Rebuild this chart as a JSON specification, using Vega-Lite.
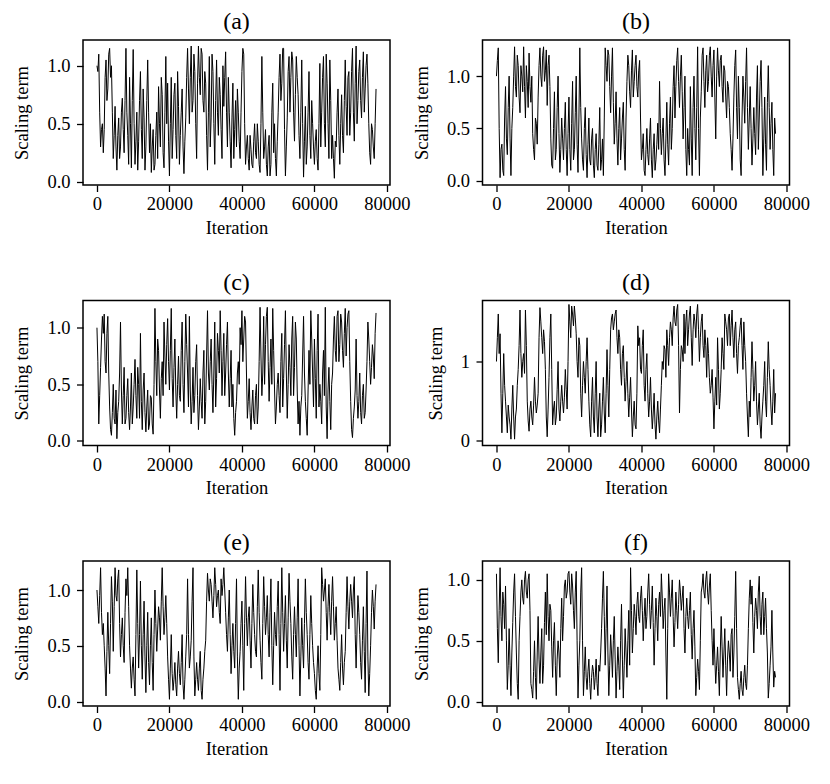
{
  "$schema": "https://vega.github.io/schema/vega-lite/v6.json",
  "background": "white",
  "padding": {"left": 12, "top": 9, "right": 0, "bottom": 0},
  "datasets": {
    "traces": [
      {"x": 0, "a": 1.0, "b": 1.0, "c": 1.0, "d": 1.0, "e": 1.0, "f": 1.05},
      {"x": 500, "a": 1.1, "b": 1.27, "c": 0.15, "d": 1.6, "e": 0.7, "f": 0.32},
      {"x": 1000, "a": 0.3, "b": 0.03, "c": 0.65, "d": 1.35, "e": 1.2, "f": 1.1},
      {"x": 1500, "a": 0.5, "b": 0.35, "c": 1.1, "d": 0.1, "e": 0.6, "f": 0.5},
      {"x": 2000, "a": 0.45, "b": 0.05, "c": 1.12, "d": 1.1, "e": 0.5, "f": 0.8},
      {"x": 2500, "a": 1.05, "b": 0.9, "c": 0.6, "d": 0.5, "e": 0.05, "f": 0.95},
      {"x": 3000, "a": 0.8, "b": 0.25, "c": 1.1, "d": 0.1, "e": 0.8, "f": 0.1},
      {"x": 3500, "a": 1.15, "b": 1.0, "c": 0.3, "d": 0.3, "e": 0.25, "f": 0.6},
      {"x": 4000, "a": 1.0, "b": 0.05, "c": 0.05, "d": 0.02, "e": 1.12, "f": 0.05},
      {"x": 4500, "a": 0.2, "b": 0.7, "c": 0.5, "d": 0.7, "e": 0.45, "f": 0.65},
      {"x": 5000, "a": 0.65, "b": 1.28, "c": 0.15, "d": 0.02, "e": 1.2, "f": 1.05},
      {"x": 5500, "a": 0.1, "b": 0.8, "c": 0.02, "d": 0.4, "e": 0.9, "f": 0.4},
      {"x": 6000, "a": 0.55, "b": 1.1, "c": 0.35, "d": 0.9, "e": 1.18, "f": 0.02},
      {"x": 6500, "a": 0.3, "b": 0.65, "c": 1.05, "d": 1.65, "e": 0.4, "f": 0.7},
      {"x": 7000, "a": 0.72, "b": 1.0, "c": 0.15, "d": 0.8, "e": 0.75, "f": 1.0},
      {"x": 7500, "a": 0.25, "b": 1.28, "c": 0.65, "d": 1.1, "e": 0.35, "f": 0.8},
      {"x": 8000, "a": 1.15, "b": 0.6, "c": 0.2, "d": 1.65, "e": 1.1, "f": 1.07},
      {"x": 8500, "a": 0.4, "b": 0.95, "c": 0.55, "d": 0.5, "e": 1.2, "f": 0.85},
      {"x": 9000, "a": 0.9, "b": 1.22, "c": 0.1, "d": 0.12, "e": 0.5, "f": 1.05},
      {"x": 9500, "a": 0.12, "b": 0.75, "c": 0.6, "d": 0.5, "e": 0.12, "f": 0.15},
      {"x": 10000, "a": 1.14, "b": 0.45, "c": 0.3, "d": 0.2, "e": 0.4, "f": 0.03},
      {"x": 10500, "a": 0.15, "b": 0.2, "c": 0.72, "d": 0.8, "e": 0.05, "f": 0.5},
      {"x": 11000, "a": 0.6, "b": 0.55, "c": 0.2, "d": 0.35, "e": 1.18, "f": 0.02},
      {"x": 11500, "a": 0.35, "b": 0.8, "c": 0.5, "d": 0.6, "e": 0.3, "f": 0.7},
      {"x": 12000, "a": 0.95, "b": 1.27, "c": 0.95, "d": 1.68, "e": 1.08, "f": 0.15},
      {"x": 12500, "a": 0.2, "b": 0.9, "c": 0.1, "d": 1.3, "e": 0.2, "f": 0.6},
      {"x": 13000, "a": 0.55, "b": 1.28, "c": 0.6, "d": 1.4, "e": 0.9, "f": 0.3},
      {"x": 13500, "a": 0.3, "b": 1.05, "c": 0.08, "d": 0.9, "e": 0.08, "f": 0.9},
      {"x": 14000, "a": 1.05, "b": 0.72, "c": 0.45, "d": 0.05, "e": 0.8, "f": 1.05},
      {"x": 14500, "a": 0.25, "b": 1.2, "c": 0.15, "d": 0.8, "e": 0.15, "f": 0.5},
      {"x": 15000, "a": 0.08, "b": 0.4, "c": 0.38, "d": 1.6, "e": 0.75, "f": 0.75},
      {"x": 15500, "a": 0.45, "b": 0.12, "c": 0.06, "d": 0.2, "e": 0.1, "f": 0.2},
      {"x": 16000, "a": 0.15, "b": 0.85, "c": 1.17, "d": 0.5, "e": 1.0, "f": 0.65},
      {"x": 16500, "a": 0.6, "b": 0.3, "c": 0.4, "d": 0.3, "e": 0.45, "f": 0.05},
      {"x": 17000, "a": 0.82, "b": 1.0, "c": 0.8, "d": 1.0, "e": 0.85, "f": 0.5},
      {"x": 17500, "a": 0.3, "b": 0.08, "c": 0.2, "d": 0.25, "e": 0.55, "f": 0.2},
      {"x": 18000, "a": 0.75, "b": 0.6, "c": 0.7, "d": 0.7, "e": 1.2, "f": 0.85},
      {"x": 18500, "a": 0.12, "b": 0.2, "c": 1.05, "d": 0.35, "e": 0.6, "f": 0.7},
      {"x": 19000, "a": 1.08, "b": 0.75, "c": 0.5, "d": 0.9, "e": 0.95, "f": 1.0},
      {"x": 19500, "a": 0.85, "b": 0.05, "c": 1.08, "d": 0.4, "e": 0.4, "f": 0.9},
      {"x": 20000, "a": 0.05, "b": 0.8, "c": 0.45, "d": 1.72, "e": 0.02, "f": 1.07},
      {"x": 20500, "a": 0.9, "b": 0.1, "c": 1.17, "d": 1.3, "e": 0.6, "f": 0.8},
      {"x": 21000, "a": 0.45, "b": 0.95, "c": 0.3, "d": 1.6, "e": 0.1, "f": 0.95},
      {"x": 21500, "a": 0.85, "b": 0.3, "c": 0.9, "d": 1.7, "e": 0.35, "f": 0.6},
      {"x": 22000, "a": 0.2, "b": 1.0, "c": 0.2, "d": 1.35, "e": 0.05, "f": 1.07},
      {"x": 22500, "a": 0.65, "b": 0.08, "c": 0.75, "d": 0.8, "e": 0.45, "f": 0.03},
      {"x": 23000, "a": 0.4, "b": 1.27, "c": 0.35, "d": 1.2, "e": 0.15, "f": 0.5},
      {"x": 23500, "a": 0.8, "b": 0.4, "c": 1.05, "d": 0.3, "e": 0.6, "f": 1.1},
      {"x": 24000, "a": 0.07, "b": 0.1, "c": 0.25, "d": 1.0, "e": 0.02, "f": 0.05},
      {"x": 24500, "a": 0.55, "b": 0.7, "c": 1.12, "d": 0.6, "e": 0.4, "f": 0.45},
      {"x": 25000, "a": 1.15, "b": 0.03, "c": 0.6, "d": 1.3, "e": 1.1, "f": 0.1},
      {"x": 25500, "a": 0.5, "b": 0.6, "c": 1.1, "d": 0.5, "e": 0.3, "f": 0.35},
      {"x": 26000, "a": 1.17, "b": 0.15, "c": 0.15, "d": 0.05, "e": 0.55, "f": 0.02},
      {"x": 26500, "a": 0.7, "b": 0.5, "c": 0.65, "d": 0.8, "e": 1.2, "f": 0.3},
      {"x": 27000, "a": 0.95, "b": 0.03, "c": 0.4, "d": 0.1, "e": 0.05, "f": 0.1},
      {"x": 27500, "a": 0.2, "b": 0.45, "c": 0.85, "d": 1.0, "e": 0.35, "f": 0.35},
      {"x": 28000, "a": 1.17, "b": 0.1, "c": 0.1, "d": 0.05, "e": 0.1, "f": 0.05},
      {"x": 28500, "a": 0.75, "b": 0.7, "c": 0.55, "d": 0.6, "e": 0.45, "f": 0.25},
      {"x": 29000, "a": 1.1, "b": 0.2, "c": 0.2, "d": 0.2, "e": 0.02, "f": 0.6},
      {"x": 29500, "a": 0.6, "b": 0.05, "c": 0.8, "d": 0.8, "e": 0.3, "f": 1.07},
      {"x": 30000, "a": 0.85, "b": 1.27, "c": 0.35, "d": 0.1, "e": 0.55, "f": 0.3},
      {"x": 30500, "a": 0.1, "b": 0.95, "c": 1.15, "d": 1.15, "e": 1.15, "f": 0.95},
      {"x": 31000, "a": 1.08, "b": 1.2, "c": 0.45, "d": 0.3, "e": 0.9, "f": 0.05},
      {"x": 31500, "a": 0.55, "b": 0.65, "c": 0.9, "d": 1.4, "e": 1.05, "f": 0.55},
      {"x": 32000, "a": 0.95, "b": 1.27, "c": 0.25, "d": 1.6, "e": 0.75, "f": 0.2},
      {"x": 32500, "a": 0.15, "b": 0.35, "c": 1.05, "d": 1.5, "e": 1.2, "f": 0.7},
      {"x": 33000, "a": 1.05, "b": 0.85, "c": 0.55, "d": 1.65, "e": 0.85, "f": 0.03},
      {"x": 33500, "a": 0.4, "b": 0.15, "c": 0.8, "d": 1.1, "e": 1.0, "f": 0.45},
      {"x": 34000, "a": 0.75, "b": 0.7, "c": 1.15, "d": 1.3, "e": 0.7, "f": 0.1},
      {"x": 34500, "a": 0.2, "b": 0.4, "c": 0.4, "d": 0.7, "e": 0.95, "f": 0.8},
      {"x": 35000, "a": 0.65, "b": 0.75, "c": 0.95, "d": 1.2, "e": 1.2, "f": 0.03},
      {"x": 35500, "a": 1.12, "b": 0.1, "c": 0.6, "d": 0.5, "e": 0.8, "f": 0.6},
      {"x": 36000, "a": 0.3, "b": 0.95, "c": 1.05, "d": 1.0, "e": 0.45, "f": 0.2},
      {"x": 36500, "a": 0.6, "b": 1.1, "c": 0.3, "d": 0.3, "e": 1.0, "f": 0.75},
      {"x": 37000, "a": 0.12, "b": 0.7, "c": 0.8, "d": 0.8, "e": 0.25, "f": 1.1},
      {"x": 37500, "a": 0.85, "b": 1.25, "c": 0.5, "d": 0.05, "e": 0.7, "f": 0.4},
      {"x": 38000, "a": 0.45, "b": 0.95, "c": 0.05, "d": 0.5, "e": 0.3, "f": 0.8},
      {"x": 38500, "a": 0.3, "b": 1.2, "c": 0.35, "d": 0.15, "e": 1.1, "f": 0.55},
      {"x": 39000, "a": 0.6, "b": 0.8, "c": 0.7, "d": 1.45, "e": 0.02, "f": 0.9},
      {"x": 39500, "a": 0.2, "b": 1.15, "c": 1.0, "d": 1.3, "e": 0.45, "f": 0.65},
      {"x": 40000, "a": 0.95, "b": 0.2, "c": 1.15, "d": 0.85, "e": 0.9, "f": 0.95},
      {"x": 40500, "a": 1.1, "b": 0.45, "c": 0.9, "d": 1.4, "e": 0.1, "f": 0.5},
      {"x": 41000, "a": 0.15, "b": 0.05, "c": 1.05, "d": 0.5, "e": 1.12, "f": 0.85},
      {"x": 41500, "a": 0.4, "b": 0.5, "c": 0.2, "d": 1.1, "e": 0.5, "f": 0.7},
      {"x": 42000, "a": 0.1, "b": 0.15, "c": 0.55, "d": 0.3, "e": 0.85, "f": 1.05},
      {"x": 42500, "a": 0.28, "b": 0.6, "c": 0.1, "d": 0.8, "e": 0.3, "f": 0.6},
      {"x": 43000, "a": 0.12, "b": 0.03, "c": 0.45, "d": 0.15, "e": 1.05, "f": 0.95},
      {"x": 43500, "a": 0.5, "b": 0.45, "c": 0.15, "d": 0.6, "e": 0.6, "f": 0.3},
      {"x": 44000, "a": 0.2, "b": 0.2, "c": 0.5, "d": 0.02, "e": 0.4, "f": 0.85},
      {"x": 44500, "a": 0.35, "b": 0.55, "c": 0.3, "d": 0.5, "e": 1.18, "f": 0.5},
      {"x": 45000, "a": 0.08, "b": 0.95, "c": 1.18, "d": 0.1, "e": 0.55, "f": 0.9},
      {"x": 45500, "a": 1.08, "b": 0.25, "c": 0.4, "d": 0.7, "e": 0.2, "f": 1.05},
      {"x": 46000, "a": 0.2, "b": 0.6, "c": 1.1, "d": 0.9, "e": 1.12, "f": 0.6},
      {"x": 46500, "a": 0.45, "b": 0.05, "c": 0.85, "d": 1.15, "e": 0.6, "f": 0.85},
      {"x": 47000, "a": 0.05, "b": 0.75, "c": 1.18, "d": 1.4, "e": 0.95, "f": 0.02},
      {"x": 47500, "a": 0.4, "b": 0.15, "c": 0.35, "d": 0.95, "e": 0.4, "f": 1.05},
      {"x": 48000, "a": 0.15, "b": 0.8, "c": 0.9, "d": 1.5, "e": 1.1, "f": 0.7},
      {"x": 48500, "a": 0.85, "b": 0.5, "c": 1.17, "d": 1.2, "e": 0.15, "f": 1.0},
      {"x": 49000, "a": 0.5, "b": 1.1, "c": 0.45, "d": 1.7, "e": 0.8, "f": 0.45},
      {"x": 49500, "a": 0.05, "b": 0.9, "c": 0.3, "d": 1.45, "e": 0.5, "f": 0.9},
      {"x": 50000, "a": 0.6, "b": 1.27, "c": 0.6, "d": 1.72, "e": 1.08, "f": 0.6},
      {"x": 50500, "a": 1.1, "b": 0.7, "c": 0.25, "d": 0.35, "e": 0.1, "f": 1.0},
      {"x": 51000, "a": 0.85, "b": 1.2, "c": 0.95, "d": 1.2, "e": 1.2, "f": 0.75},
      {"x": 51500, "a": 1.15, "b": 0.4, "c": 0.55, "d": 1.0, "e": 0.45, "f": 0.95},
      {"x": 52000, "a": 0.05, "b": 1.0, "c": 1.15, "d": 1.1, "e": 0.95, "f": 0.4},
      {"x": 52500, "a": 0.55, "b": 0.05, "c": 0.2, "d": 1.65, "e": 0.3, "f": 0.85},
      {"x": 53000, "a": 1.08, "b": 0.3, "c": 0.85, "d": 1.4, "e": 1.15, "f": 0.6},
      {"x": 53500, "a": 0.9, "b": 0.9, "c": 0.4, "d": 1.7, "e": 0.7, "f": 0.9},
      {"x": 54000, "a": 1.05, "b": 0.05, "c": 1.1, "d": 0.95, "e": 0.2, "f": 0.35},
      {"x": 54500, "a": 0.35, "b": 1.0, "c": 0.65, "d": 1.6, "e": 0.85, "f": 0.75},
      {"x": 55000, "a": 1.08, "b": 0.2, "c": 0.9, "d": 1.3, "e": 0.4, "f": 0.05},
      {"x": 55500, "a": 0.75, "b": 1.28, "c": 0.15, "d": 1.72, "e": 1.1, "f": 0.35},
      {"x": 56000, "a": 0.2, "b": 0.05, "c": 0.05, "d": 1.0, "e": 0.05, "f": 0.1},
      {"x": 56500, "a": 1.05, "b": 0.85, "c": 0.4, "d": 1.5, "e": 0.75, "f": 0.9},
      {"x": 57000, "a": 0.04, "b": 1.27, "c": 1.1, "d": 1.2, "e": 0.3, "f": 1.05},
      {"x": 57500, "a": 0.65, "b": 0.7, "c": 0.35, "d": 1.4, "e": 1.1, "f": 0.85},
      {"x": 58000, "a": 0.3, "b": 1.2, "c": 0.05, "d": 0.8, "e": 0.6, "f": 1.07},
      {"x": 58500, "a": 0.95, "b": 0.95, "c": 0.8, "d": 1.1, "e": 0.2, "f": 0.8},
      {"x": 59000, "a": 0.2, "b": 1.28, "c": 1.15, "d": 0.6, "e": 0.95, "f": 1.05},
      {"x": 59500, "a": 0.5, "b": 0.8, "c": 0.6, "d": 0.9, "e": 0.5, "f": 0.5},
      {"x": 60000, "a": 0.15, "b": 1.25, "c": 0.9, "d": 0.15, "e": 0.25, "f": 0.6},
      {"x": 60500, "a": 0.45, "b": 0.4, "c": 0.2, "d": 0.8, "e": 0.02, "f": 0.15},
      {"x": 61000, "a": 0.1, "b": 1.27, "c": 1.12, "d": 1.3, "e": 0.5, "f": 0.45},
      {"x": 61500, "a": 1.02, "b": 0.9, "c": 0.5, "d": 0.4, "e": 0.1, "f": 0.05},
      {"x": 62000, "a": 0.6, "b": 1.2, "c": 0.15, "d": 0.9, "e": 1.2, "f": 0.7},
      {"x": 62500, "a": 1.08, "b": 0.75, "c": 0.8, "d": 1.1, "e": 0.9, "f": 0.2},
      {"x": 63000, "a": 0.3, "b": 1.05, "c": 1.18, "d": 1.6, "e": 1.1, "f": 0.6},
      {"x": 63500, "a": 0.85, "b": 0.6, "c": 0.02, "d": 1.4, "e": 0.55, "f": 0.05},
      {"x": 64000, "a": 0.2, "b": 0.9, "c": 0.65, "d": 1.55, "e": 1.05, "f": 0.5},
      {"x": 64500, "a": 0.7, "b": 0.45, "c": 0.1, "d": 1.2, "e": 0.6, "f": 0.25},
      {"x": 65000, "a": 0.4, "b": 0.1, "c": 0.6, "d": 1.65, "e": 1.12, "f": 0.6},
      {"x": 65500, "a": 0.03, "b": 0.8, "c": 1.1, "d": 1.05, "e": 0.55, "f": 0.4},
      {"x": 66000, "a": 0.3, "b": 1.25, "c": 0.7, "d": 1.5, "e": 0.85, "f": 1.07},
      {"x": 66500, "a": 0.8, "b": 0.4, "c": 1.15, "d": 0.85, "e": 0.3, "f": 0.2},
      {"x": 67000, "a": 0.15, "b": 0.7, "c": 0.85, "d": 1.3, "e": 0.1, "f": 0.02},
      {"x": 67500, "a": 0.75, "b": 0.05, "c": 1.05, "d": 1.55, "e": 0.6, "f": 0.25},
      {"x": 68000, "a": 0.25, "b": 1.0, "c": 0.65, "d": 0.9, "e": 0.15, "f": 0.05},
      {"x": 68500, "a": 1.05, "b": 0.55, "c": 1.17, "d": 1.2, "e": 0.45, "f": 0.3},
      {"x": 69000, "a": 0.4, "b": 1.27, "c": 1.0, "d": 0.6, "e": 1.12, "f": 0.1},
      {"x": 69500, "a": 0.95, "b": 0.3, "c": 1.15, "d": 0.05, "e": 0.65, "f": 0.6},
      {"x": 70000, "a": 0.6, "b": 0.9, "c": 0.35, "d": 0.3, "e": 1.05, "f": 1.0},
      {"x": 70500, "a": 1.15, "b": 0.15, "c": 0.03, "d": 1.25, "e": 0.75, "f": 0.95},
      {"x": 71000, "a": 0.35, "b": 0.7, "c": 0.3, "d": 0.5, "e": 1.12, "f": 0.4},
      {"x": 71500, "a": 1.17, "b": 0.25, "c": 0.9, "d": 1.0, "e": 0.3, "f": 0.85},
      {"x": 72000, "a": 0.7, "b": 1.1, "c": 0.2, "d": 0.2, "e": 0.95, "f": 0.6},
      {"x": 72500, "a": 1.05, "b": 0.6, "c": 0.6, "d": 0.6, "e": 0.6, "f": 1.03},
      {"x": 73000, "a": 0.55, "b": 1.15, "c": 0.15, "d": 0.03, "e": 0.2, "f": 0.55},
      {"x": 73500, "a": 1.12, "b": 0.05, "c": 0.5, "d": 0.5, "e": 0.85, "f": 0.9},
      {"x": 74000, "a": 0.8, "b": 0.8, "c": 0.25, "d": 1.0, "e": 0.08, "f": 0.7},
      {"x": 74500, "a": 1.1, "b": 0.1, "c": 0.7, "d": 0.3, "e": 1.17, "f": 0.6},
      {"x": 75000, "a": 0.5, "b": 1.1, "c": 0.9, "d": 1.25, "e": 0.05, "f": 0.03},
      {"x": 75500, "a": 0.15, "b": 0.3, "c": 0.5, "d": 0.7, "e": 0.5, "f": 0.3},
      {"x": 76000, "a": 0.45, "b": 0.75, "c": 0.85, "d": 0.2, "e": 1.0, "f": 0.75},
      {"x": 76500, "a": 0.2, "b": 0.05, "c": 0.55, "d": 0.9, "e": 0.65, "f": 0.12},
      {"x": 77000, "a": 0.8, "b": 0.45, "c": 1.13, "d": 0.6, "e": 1.05, "f": 0.2},
      {"x": 250, "a": 0.95, "b": 1.15, "c": 0.7, "d": 1.3, "e": 0.85, "f": 0.6},
      {"x": 750, "a": 0.6, "b": 0.5, "c": 0.4, "d": 1.1, "e": 0.95, "f": 0.75},
      {"x": 1250, "a": 0.45, "b": 0.3, "c": 0.9, "d": 0.6, "e": 0.8, "f": 0.7},
      {"x": 1750, "a": 0.25, "b": 0.1, "c": 0.95, "d": 0.6, "e": 0.7, "f": 0.9},
      {"x": 2250, "a": 0.9, "b": 0.6, "c": 0.7, "d": 0.7, "e": 0.3, "f": 0.6},
      {"x": 2750, "a": 0.7, "b": 0.4, "c": 0.95, "d": 0.3, "e": 0.45, "f": 0.5},
      {"x": 3250, "a": 1.1, "b": 0.7, "c": 0.6, "d": 0.45, "e": 0.5, "f": 0.3},
      {"x": 3750, "a": 0.9, "b": 0.4, "c": 0.1, "d": 0.2, "e": 0.7, "f": 0.3},
      {"x": 4250, "a": 0.6, "b": 0.5, "c": 0.25, "d": 0.4, "e": 0.9, "f": 0.4},
      {"x": 4750, "a": 0.4, "b": 1.0, "c": 0.2, "d": 0.3, "e": 0.85, "f": 0.9},
      {"x": 5250, "a": 0.3, "b": 0.9, "c": 0.45, "d": 0.3, "e": 0.95, "f": 0.7},
      {"x": 5750, "a": 0.4, "b": 1.2, "c": 0.25, "d": 0.7, "e": 1.1, "f": 0.15},
      {"x": 6250, "a": 0.2, "b": 0.8, "c": 0.6, "d": 1.2, "e": 0.7, "f": 0.5},
      {"x": 6750, "a": 0.6, "b": 1.1, "c": 0.45, "d": 1.1, "e": 0.6, "f": 0.9},
      {"x": 7250, "a": 0.45, "b": 0.85, "c": 0.4, "d": 1.0, "e": 0.5, "f": 0.85},
      {"x": 7750, "a": 0.7, "b": 0.9, "c": 0.15, "d": 0.85, "e": 0.8, "f": 1.0},
      {"x": 8250, "a": 0.6, "b": 1.1, "c": 0.4, "d": 1.2, "e": 0.95, "f": 0.9},
      {"x": 8750, "a": 0.15, "b": 0.7, "c": 0.25, "d": 0.25, "e": 0.85, "f": 1.0},
      {"x": 9250, "a": 0.5, "b": 0.9, "c": 0.3, "d": 0.4, "e": 0.3, "f": 0.75},
      {"x": 9750, "a": 0.7, "b": 1.0, "c": 0.15, "d": 0.3, "e": 0.3, "f": 0.1},
      {"x": 10250, "a": 0.5, "b": 0.3, "c": 0.5, "d": 0.45, "e": 0.2, "f": 0.25},
      {"x": 10750, "a": 0.35, "b": 0.6, "c": 0.4, "d": 0.5, "e": 0.6, "f": 0.2},
      {"x": 11250, "a": 0.1, "b": 0.35, "c": 0.65, "d": 0.45, "e": 0.7, "f": 0.4},
      {"x": 11750, "a": 0.7, "b": 1.1, "c": 0.2, "d": 1.3, "e": 0.6, "f": 0.35},
      {"x": 12250, "a": 0.45, "b": 1.0, "c": 0.35, "d": 1.5, "e": 0.5, "f": 0.4},
      {"x": 12750, "a": 0.8, "b": 1.2, "c": 0.45, "d": 1.1, "e": 0.6, "f": 0.15},
      {"x": 13250, "a": 0.1, "b": 0.95, "c": 0.25, "d": 1.25, "e": 0.4, "f": 0.65},
      {"x": 13750, "a": 0.7, "b": 1.25, "c": 0.3, "d": 0.3, "e": 0.5, "f": 0.55},
      {"x": 14250, "a": 0.6, "b": 1.1, "c": 0.1, "d": 0.4, "e": 0.35, "f": 0.7},
      {"x": 14750, "a": 0.5, "b": 0.9, "c": 0.4, "d": 1.3, "e": 0.5, "f": 0.8},
      {"x": 15250, "a": 0.3, "b": 0.15, "c": 0.15, "d": 0.9, "e": 0.35, "f": 0.45},
      {"x": 15750, "a": 0.1, "b": 0.5, "c": 0.5, "d": 0.4, "e": 0.6, "f": 0.5},
      {"x": 16250, "a": 0.4, "b": 0.2, "c": 0.7, "d": 0.2, "e": 0.7, "f": 0.3},
      {"x": 16750, "a": 0.2, "b": 0.7, "c": 0.9, "d": 0.65, "e": 0.65, "f": 0.35},
      {"x": 17250, "a": 0.5, "b": 0.45, "c": 0.45, "d": 0.4, "e": 0.75, "f": 0.4},
      {"x": 17750, "a": 0.9, "b": 0.3, "c": 0.55, "d": 0.5, "e": 0.9, "f": 0.6},
      {"x": 18250, "a": 0.25, "b": 0.4, "c": 0.4, "d": 0.5, "e": 0.85, "f": 0.5},
      {"x": 18750, "a": 0.6, "b": 0.5, "c": 0.75, "d": 0.55, "e": 0.75, "f": 0.95},
      {"x": 19250, "a": 0.5, "b": 0.3, "c": 0.85, "d": 0.65, "e": 0.7, "f": 0.85},
      {"x": 19750, "a": 0.35, "b": 0.45, "c": 0.7, "d": 1.0, "e": 0.2, "f": 1.05},
      {"x": 20250, "a": 0.5, "b": 0.3, "c": 0.8, "d": 1.5, "e": 0.3, "f": 0.9},
      {"x": 20750, "a": 0.2, "b": 0.55, "c": 0.55, "d": 1.7, "e": 0.25, "f": 1.05},
      {"x": 21250, "a": 0.75, "b": 0.2, "c": 0.65, "d": 1.45, "e": 0.2, "f": 0.75},
      {"x": 21750, "a": 0.4, "b": 0.65, "c": 0.45, "d": 1.55, "e": 0.15, "f": 0.9},
      {"x": 22250, "a": 0.95, "b": 0.35, "c": 0.5, "d": 1.0, "e": 0.3, "f": 0.5},
      {"x": 22750, "a": 0.15, "b": 0.6, "c": 0.4, "d": 1.3, "e": 0.25, "f": 0.3},
      {"x": 23250, "a": 0.6, "b": 0.7, "c": 0.8, "d": 0.6, "e": 0.35, "f": 0.9},
      {"x": 23750, "a": 0.3, "b": 0.2, "c": 0.5, "d": 0.7, "e": 0.15, "f": 0.5},
      {"x": 24250, "a": 0.35, "b": 0.5, "c": 0.7, "d": 0.8, "e": 0.2, "f": 0.25},
      {"x": 24750, "a": 0.9, "b": 0.25, "c": 0.85, "d": 1.0, "e": 0.6, "f": 0.2},
      {"x": 25250, "a": 0.8, "b": 0.35, "c": 0.3, "d": 0.9, "e": 0.6, "f": 0.25},
      {"x": 25750, "a": 0.9, "b": 0.2, "c": 0.45, "d": 0.2, "e": 0.4, "f": 0.15},
      {"x": 26250, "a": 0.6, "b": 0.4, "c": 0.35, "d": 0.5, "e": 0.9, "f": 0.2},
      {"x": 26750, "a": 1.1, "b": 0.15, "c": 0.25, "d": 0.3, "e": 0.4, "f": 0.25},
      {"x": 27250, "a": 0.5, "b": 0.3, "c": 0.7, "d": 0.6, "e": 0.2, "f": 0.2},
      {"x": 27750, "a": 0.85, "b": 0.15, "c": 0.4, "d": 0.3, "e": 0.2, "f": 0.15},
      {"x": 28250, "a": 0.9, "b": 0.35, "c": 0.3, "d": 0.4, "e": 0.3, "f": 0.3},
      {"x": 28750, "a": 1.15, "b": 0.1, "c": 0.35, "d": 0.05, "e": 0.1, "f": 0.4},
      {"x": 29250, "a": 0.7, "b": 0.4, "c": 0.6, "d": 0.5, "e": 0.2, "f": 0.85},
      {"x": 29750, "a": 0.95, "b": 0.6, "c": 0.15, "d": 0.35, "e": 0.45, "f": 0.7},
      {"x": 30250, "a": 0.4, "b": 1.1, "c": 0.75, "d": 0.6, "e": 0.9, "f": 0.6},
      {"x": 30750, "a": 0.6, "b": 1.25, "c": 0.6, "d": 0.7, "e": 1.0, "f": 0.4},
      {"x": 31250, "a": 0.3, "b": 0.9, "c": 0.7, "d": 0.9, "e": 1.1, "f": 0.3},
      {"x": 31750, "a": 1.1, "b": 1.0, "c": 0.5, "d": 1.55, "e": 0.9, "f": 0.4},
      {"x": 32250, "a": 0.5, "b": 0.75, "c": 0.6, "d": 1.4, "e": 0.95, "f": 0.5},
      {"x": 32750, "a": 0.7, "b": 0.55, "c": 0.3, "d": 1.6, "e": 1.05, "f": 0.35},
      {"x": 33250, "a": 0.6, "b": 0.4, "c": 0.95, "d": 1.3, "e": 0.95, "f": 0.25},
      {"x": 33750, "a": 0.9, "b": 0.5, "c": 0.6, "d": 1.4, "e": 0.8, "f": 0.3},
      {"x": 34250, "a": 0.45, "b": 0.2, "c": 0.8, "d": 0.9, "e": 1.1, "f": 0.5},
      {"x": 34750, "a": 1.0, "b": 0.6, "c": 0.7, "d": 1.1, "e": 1.05, "f": 0.35},
      {"x": 35250, "a": 0.9, "b": 0.3, "c": 0.4, "d": 0.8, "e": 1.0, "f": 0.3},
      {"x": 35750, "a": 0.6, "b": 0.6, "c": 0.85, "d": 0.75, "e": 0.6, "f": 0.4},
      {"x": 36250, "a": 0.9, "b": 1.2, "c": 0.6, "d": 0.6, "e": 0.75, "f": 0.5},
      {"x": 36750, "a": 0.35, "b": 0.85, "c": 0.55, "d": 0.55, "e": 0.6, "f": 0.3},
      {"x": 37250, "a": 0.55, "b": 1.05, "c": 0.3, "d": 0.4, "e": 0.5, "f": 0.75},
      {"x": 37750, "a": 0.2, "b": 0.8, "c": 0.2, "d": 0.3, "e": 0.45, "f": 0.6},
      {"x": 38250, "a": 0.7, "b": 1.1, "c": 0.25, "d": 0.2, "e": 0.7, "f": 0.7},
      {"x": 38750, "a": 0.8, "b": 0.9, "c": 0.6, "d": 0.6, "e": 0.4, "f": 0.8},
      {"x": 39250, "a": 0.35, "b": 1.05, "c": 0.5, "d": 1.2, "e": 0.3, "f": 0.7},
      {"x": 39750, "a": 0.6, "b": 0.6, "c": 0.85, "d": 0.9, "e": 0.7, "f": 0.85},
      {"x": 40250, "a": 1.15, "b": 0.3, "c": 0.7, "d": 1.2, "e": 0.5, "f": 0.75},
      {"x": 40750, "a": 0.5, "b": 0.1, "c": 1.1, "d": 0.7, "e": 0.7, "f": 0.7},
      {"x": 41250, "a": 0.3, "b": 0.3, "c": 0.6, "d": 0.9, "e": 0.75, "f": 0.6},
      {"x": 41750, "a": 0.2, "b": 0.25, "c": 0.35, "d": 0.6, "e": 0.75, "f": 0.9},
      {"x": 42250, "a": 0.4, "b": 0.4, "c": 0.25, "d": 0.5, "e": 0.55, "f": 0.8},
      {"x": 42750, "a": 0.15, "b": 0.2, "c": 0.3, "d": 0.4, "e": 0.7, "f": 0.75},
      {"x": 43250, "a": 0.35, "b": 0.3, "c": 0.2, "d": 0.35, "e": 0.8, "f": 0.65},
      {"x": 43750, "a": 0.25, "b": 0.1, "c": 0.4, "d": 0.2, "e": 0.45, "f": 0.6},
      {"x": 44250, "a": 0.5, "b": 0.35, "c": 0.15, "d": 0.3, "e": 0.85, "f": 0.7},
      {"x": 44750, "a": 0.15, "b": 0.3, "c": 0.7, "d": 0.25, "e": 0.8, "f": 0.8},
      {"x": 45250, "a": 0.5, "b": 0.5, "c": 0.75, "d": 0.4, "e": 0.35, "f": 0.7},
      {"x": 45750, "a": 0.6, "b": 0.45, "c": 0.6, "d": 1.0, "e": 0.7, "f": 0.85},
      {"x": 46250, "a": 0.3, "b": 0.2, "c": 0.5, "d": 1.2, "e": 0.85, "f": 0.75},
      {"x": 46750, "a": 0.15, "b": 0.4, "c": 1.1, "d": 0.8, "e": 0.75, "f": 0.4},
      {"x": 47250, "a": 0.3, "b": 0.35, "c": 0.7, "d": 1.2, "e": 0.6, "f": 0.6},
      {"x": 47750, "a": 0.05, "b": 0.55, "c": 0.65, "d": 1.3, "e": 0.8, "f": 0.9},
      {"x": 48250, "a": 0.6, "b": 0.3, "c": 0.5, "d": 1.4, "e": 0.5, "f": 0.85},
      {"x": 48750, "a": 0.25, "b": 0.9, "c": 0.8, "d": 1.55, "e": 0.5, "f": 0.7},
      {"x": 49250, "a": 0.2, "b": 0.6, "c": 0.15, "d": 1.5, "e": 0.6, "f": 0.65},
      {"x": 49750, "a": 0.35, "b": 1.15, "c": 0.5, "d": 1.65, "e": 0.85, "f": 0.75},
      {"x": 50250, "a": 0.9, "b": 0.95, "c": 0.4, "d": 1.2, "e": 0.6, "f": 0.8},
      {"x": 50750, "a": 0.7, "b": 1.0, "c": 0.7, "d": 0.9, "e": 0.7, "f": 0.9},
      {"x": 51250, "a": 1.15, "b": 0.85, "c": 0.3, "d": 1.15, "e": 0.8, "f": 0.85},
      {"x": 51750, "a": 0.45, "b": 0.7, "c": 0.85, "d": 1.6, "e": 0.7, "f": 0.6},
      {"x": 52250, "a": 0.3, "b": 0.3, "c": 0.6, "d": 1.5, "e": 0.55, "f": 0.7},
      {"x": 52750, "a": 0.95, "b": 0.5, "c": 0.5, "d": 1.2, "e": 0.75, "f": 0.7},
      {"x": 53250, "a": 0.6, "b": 0.15, "c": 0.65, "d": 1.6, "e": 0.9, "f": 0.75},
      {"x": 53750, "a": 1.12, "b": 0.4, "c": 0.9, "d": 1.3, "e": 0.4, "f": 0.55},
      {"x": 54250, "a": 0.6, "b": 0.7, "c": 0.4, "d": 1.4, "e": 0.6, "f": 0.6},
      {"x": 54750, "a": 0.75, "b": 0.5, "c": 1.05, "d": 1.5, "e": 0.6, "f": 0.45},
      {"x": 55250, "a": 0.9, "b": 0.7, "c": 0.45, "d": 1.6, "e": 0.75, "f": 0.2},
      {"x": 55750, "a": 0.4, "b": 0.5, "c": 0.35, "d": 1.4, "e": 0.5, "f": 0.25},
      {"x": 56250, "a": 0.6, "b": 0.6, "c": 0.3, "d": 1.3, "e": 0.4, "f": 0.5},
      {"x": 56750, "a": 0.5, "b": 1.2, "c": 0.75, "d": 1.6, "e": 0.5, "f": 0.95},
      {"x": 57250, "a": 0.35, "b": 0.95, "c": 0.6, "d": 1.05, "e": 0.7, "f": 0.9},
      {"x": 57750, "a": 0.15, "b": 1.05, "c": 0.2, "d": 1.2, "e": 0.8, "f": 1.0},
      {"x": 58250, "a": 0.6, "b": 0.85, "c": 0.45, "d": 1.3, "e": 0.35, "f": 0.9},
      {"x": 58750, "a": 0.4, "b": 1.2, "c": 0.5, "d": 0.8, "e": 0.6, "f": 0.95},
      {"x": 59250, "a": 0.7, "b": 1.0, "c": 0.9, "d": 0.7, "e": 0.7, "f": 0.75},
      {"x": 59750, "a": 0.3, "b": 1.1, "c": 0.3, "d": 0.55, "e": 0.35, "f": 0.3},
      {"x": 60250, "a": 0.35, "b": 0.8, "c": 0.55, "d": 0.5, "e": 0.1, "f": 0.35},
      {"x": 60750, "a": 0.2, "b": 1.0, "c": 0.8, "d": 0.45, "e": 0.3, "f": 0.3},
      {"x": 61250, "a": 0.5, "b": 1.05, "c": 0.3, "d": 0.9, "e": 0.25, "f": 0.25},
      {"x": 61750, "a": 0.3, "b": 1.15, "c": 0.35, "d": 0.6, "e": 0.6, "f": 0.4},
      {"x": 62250, "a": 0.9, "b": 0.9, "c": 0.6, "d": 1.3, "e": 1.05, "f": 0.45},
      {"x": 62750, "a": 0.5, "b": 1.1, "c": 0.4, "d": 0.9, "e": 1.0, "f": 0.4},
      {"x": 63250, "a": 1.1, "b": 0.8, "c": 0.3, "d": 1.5, "e": 0.8, "f": 0.3},
      {"x": 63750, "a": 0.5, "b": 0.95, "c": 0.45, "d": 1.2, "e": 0.85, "f": 0.35},
      {"x": 64250, "a": 1.05, "b": 0.7, "c": 0.35, "d": 1.6, "e": 0.8, "f": 0.4},
      {"x": 64750, "a": 0.2, "b": 0.3, "c": 0.5, "d": 1.45, "e": 0.9, "f": 0.55},
      {"x": 65250, "a": 0.2, "b": 0.4, "c": 0.9, "d": 1.3, "e": 0.85, "f": 0.2},
      {"x": 65750, "a": 0.35, "b": 1.1, "c": 0.8, "d": 1.4, "e": 0.7, "f": 0.7},
      {"x": 66250, "a": 0.6, "b": 0.7, "c": 1.1, "d": 1.1, "e": 0.55, "f": 0.6},
      {"x": 66750, "a": 0.4, "b": 1.0, "c": 0.7, "d": 1.2, "e": 0.2, "f": 0.1},
      {"x": 67250, "a": 0.5, "b": 0.2, "c": 1.12, "d": 1.45, "e": 0.35, "f": 0.15},
      {"x": 67750, "a": 0.4, "b": 0.6, "c": 0.8, "d": 1.2, "e": 0.3, "f": 0.1},
      {"x": 68250, "a": 0.7, "b": 0.8, "c": 0.95, "d": 1.5, "e": 0.35, "f": 0.2},
      {"x": 68750, "a": 0.65, "b": 0.95, "c": 0.75, "d": 1.0, "e": 0.8, "f": 0.15},
      {"x": 69250, "a": 0.9, "b": 0.7, "c": 1.12, "d": 0.3, "e": 0.85, "f": 0.3},
      {"x": 69750, "a": 0.4, "b": 0.6, "c": 0.7, "d": 0.5, "e": 0.9, "f": 0.85},
      {"x": 70250, "a": 0.95, "b": 0.5, "c": 0.1, "d": 0.8, "e": 0.9, "f": 0.8},
      {"x": 70750, "a": 0.6, "b": 0.4, "c": 0.2, "d": 0.9, "e": 1.0, "f": 0.65},
      {"x": 71250, "a": 0.85, "b": 0.45, "c": 0.45, "d": 0.7, "e": 0.6, "f": 0.7},
      {"x": 71750, "a": 0.5, "b": 0.8, "c": 0.4, "d": 0.5, "e": 0.65, "f": 0.75},
      {"x": 72250, "a": 0.95, "b": 0.3, "c": 0.35, "d": 0.4, "e": 0.8, "f": 0.9},
      {"x": 72750, "a": 0.7, "b": 0.95, "c": 0.25, "d": 0.2, "e": 0.35, "f": 0.7},
      {"x": 73250, "a": 0.9, "b": 0.7, "c": 0.4, "d": 0.3, "e": 0.55, "f": 0.8},
      {"x": 73750, "a": 0.6, "b": 0.4, "c": 0.2, "d": 0.7, "e": 0.45, "f": 0.55},
      {"x": 74250, "a": 1.0, "b": 0.35, "c": 0.45, "d": 0.5, "e": 0.7, "f": 0.85},
      {"x": 74750, "a": 0.85, "b": 0.75, "c": 1.05, "d": 0.8, "e": 0.4, "f": 0.4},
      {"x": 75250, "a": 0.25, "b": 0.7, "c": 0.7, "d": 0.9, "e": 0.25, "f": 0.15},
      {"x": 75750, "a": 0.5, "b": 0.55, "c": 0.65, "d": 0.4, "e": 0.8, "f": 0.45},
      {"x": 76250, "a": 0.3, "b": 0.3, "c": 0.75, "d": 0.5, "e": 0.85, "f": 0.4},
      {"x": 76750, "a": 0.5, "b": 0.6, "c": 0.95, "d": 0.35, "e": 0.9, "f": 0.25}
    ]
  },
  "columns": 2,
  "bounds": "flush",
  "spacing": {"row": 115.5, "column": 92.5},
  "concat": [
    {
      "title": "(a)",
      "width": 307,
      "height": 145,
      "data": {"name": "traces"},
      "mark": {"type": "line", "color": "black", "strokeWidth": 1},
      "encoding": {
        "x": {"field": "x", "type": "quantitative", "title": "Iteration", "scale": {"domain": [-3850, 80850], "nice": false, "zero": false}, "axis": {"values": [0, 20000, 40000, 60000, 80000], "format": "d"}},
        "y": {"field": "a", "type": "quantitative", "title": "Scaling term", "scale": {"domain": [-0.028, 1.222], "nice": false, "zero": false}, "axis": {"values": [0, 0.5, 1], "format": ".1f"}}
      }
    },
    {
      "title": "(b)",
      "width": 307,
      "height": 145,
      "data": {"name": "traces"},
      "mark": {"type": "line", "color": "black", "strokeWidth": 1},
      "encoding": {
        "x": {"field": "x", "type": "quantitative", "title": "Iteration", "scale": {"domain": [-3850, 80850], "nice": false, "zero": false}, "axis": {"values": [0, 20000, 40000, 60000, 80000], "format": "d"}},
        "y": {"field": "b", "type": "quantitative", "title": "Scaling term", "scale": {"domain": [-0.04, 1.345], "nice": false, "zero": false}, "axis": {"values": [0, 0.5, 1], "format": ".1f"}}
      }
    },
    {
      "title": "(c)",
      "width": 307,
      "height": 145,
      "data": {"name": "traces"},
      "mark": {"type": "line", "color": "black", "strokeWidth": 1},
      "encoding": {
        "x": {"field": "x", "type": "quantitative", "title": "Iteration", "scale": {"domain": [-3850, 80850], "nice": false, "zero": false}, "axis": {"values": [0, 20000, 40000, 60000, 80000], "format": "d"}},
        "y": {"field": "c", "type": "quantitative", "title": "Scaling term", "scale": {"domain": [-0.04, 1.24], "nice": false, "zero": false}, "axis": {"values": [0, 0.5, 1], "format": ".1f"}}
      }
    },
    {
      "title": "(d)",
      "width": 307,
      "height": 145,
      "data": {"name": "traces"},
      "mark": {"type": "line", "color": "black", "strokeWidth": 1},
      "encoding": {
        "x": {"field": "x", "type": "quantitative", "title": "Iteration", "scale": {"domain": [-3850, 80850], "nice": false, "zero": false}, "axis": {"values": [0, 20000, 40000, 60000, 80000], "format": "d"}},
        "y": {"field": "d", "type": "quantitative", "title": "Scaling term", "scale": {"domain": [-0.06, 1.77], "nice": false, "zero": false}, "axis": {"values": [0, 1], "format": "d"}}
      }
    },
    {
      "title": "(e)",
      "width": 307,
      "height": 145,
      "data": {"name": "traces"},
      "mark": {"type": "line", "color": "black", "strokeWidth": 1},
      "encoding": {
        "x": {"field": "x", "type": "quantitative", "title": "Iteration", "scale": {"domain": [-3850, 80850], "nice": false, "zero": false}, "axis": {"values": [0, 20000, 40000, 60000, 80000], "format": "d"}},
        "y": {"field": "e", "type": "quantitative", "title": "Scaling term", "scale": {"domain": [-0.04, 1.26], "nice": false, "zero": false}, "axis": {"values": [0, 0.5, 1], "format": ".1f"}}
      }
    },
    {
      "title": "(f)",
      "width": 307,
      "height": 145,
      "data": {"name": "traces"},
      "mark": {"type": "line", "color": "black", "strokeWidth": 1},
      "encoding": {
        "x": {"field": "x", "type": "quantitative", "title": "Iteration", "scale": {"domain": [-3850, 80850], "nice": false, "zero": false}, "axis": {"values": [0, 20000, 40000, 60000, 80000], "format": "d"}},
        "y": {"field": "f", "type": "quantitative", "title": "Scaling term", "scale": {"domain": [-0.035, 1.155], "nice": false, "zero": false}, "axis": {"values": [0, 0.5, 1], "format": ".1f"}}
      }
    }
  ],
  "config": {
    "font": "Liberation Serif",
    "view": {"stroke": "black", "strokeWidth": 1.5},
    "title": {"font": "Liberation Serif", "fontSize": 24, "fontWeight": "normal", "color": "black", "offset": 6, "anchor": "middle"},
    "axis": {
      "domain": false,
      "grid": false,
      "tickColor": "black",
      "tickWidth": 1.3,
      "tickSize": 6.5,
      "labelFont": "Liberation Serif",
      "labelFontSize": 18.5,
      "labelColor": "black",
      "labelFlush": false,
      "labelOverlap": false,
      "titleFont": "Liberation Serif",
      "titleFontSize": 18.5,
      "titleFontWeight": "normal",
      "titleColor": "black"
    },
    "axisX": {"labelPadding": 3, "titlePadding": 5},
    "axisY": {"labelPadding": 6.5, "titlePadding": 15}
  }
}
